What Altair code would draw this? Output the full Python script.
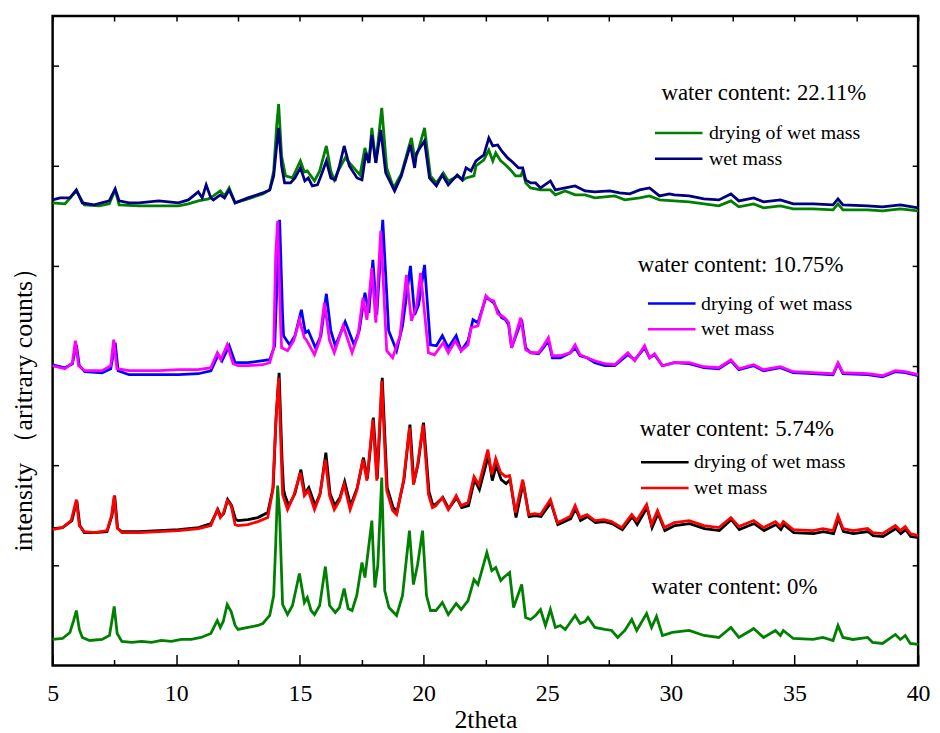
import altair as alt
import pandas as pd

FONT = "Liberation Serif"
LABELS = ["drying of wet mass", "wet mass"]

# ---------------- data: (2theta, intensity) ----------------
dry_22 = [(5.00,463),(5.50,462),(5.96,475),(6.28,461),(6.88,460),(7.29,462),(7.53,476),(7.69,461),
    (8.49,460),(9.29,460),(10.09,460),(10.49,462),(10.89,465),(11.30,467),(11.50,470),(11.78,475),
    (11.95,470),(12.14,478),(12.38,463),(12.90,467),(13.50,472),(13.78,476),(13.94,495),(14.06,540),
    (14.14,562),(14.26,510),(14.42,490),(14.70,488),(15.02,505),(15.18,494),(15.30,495),(15.59,485),
    (15.80,495),(16.07,520),(16.25,495),(16.39,486),(16.55,495),(16.83,508),(17.11,500),(17.43,491),
    (17.63,518),(17.79,503),(17.91,538),(18.07,503),(18.31,558),(18.51,498),(18.79,478),(19.10,492),
    (19.51,528),(19.64,508),(19.76,513),(20.04,538),(20.28,490),(20.52,483),(20.80,493),(21.00,485),
    (21.40,490),(21.60,486),(21.72,488),(22.04,490),(22.12,500),(22.44,506),(22.64,516),(22.80,505),
    (22.92,513),(23.12,505),(23.32,501),(23.52,496),(23.72,490),(23.93,490),(24.01,495),(24.13,483),
    (24.33,478),(24.73,476),(25.13,476),(25.33,471),(25.73,475),(26.13,471),(26.53,471),(26.93,468),
    (27.73,470),(28.14,466),(28.74,468),(29.14,470),(29.54,466),(30.14,465),(30.74,464),(31.34,462),
    (31.94,460),(32.43,465),(32.75,459),(33.35,462),(33.75,458),(34.43,460),(34.95,457),(35.75,457),
    (36.56,456),(36.76,462),(36.96,456),(37.96,456),(38.56,455),(39.28,457),(40.00,455)]

wet_22 = [(5.00,466),(5.30,468),(5.70,468),(5.96,476),(6.20,463),(6.68,461),(7.29,465),(7.53,477),
    (7.69,465),(8.09,463),(8.49,463),(9.29,465),(10.09,463),(10.49,466),(10.89,474),(11.05,468),
    (11.21,481),(11.40,468),(11.50,466),(11.78,471),(11.95,468),(12.14,476),(12.38,463),(12.90,468),
    (13.50,473),(13.78,476),(13.94,490),(14.06,520),(14.14,538),(14.26,500),(14.38,483),(14.62,483),
    (14.80,488),(15.02,498),(15.20,485),(15.34,488),(15.50,480),(15.71,481),(15.85,490),(16.07,505),
    (16.25,488),(16.43,486),(16.60,500),(16.79,520),(17.00,500),(17.31,488),(17.51,486),(17.67,513),
    (17.79,503),(17.91,531),(18.07,503),(18.27,536),(18.47,493),(18.83,475),(19.10,490),(19.47,521),
    (19.64,498),(19.72,513),(20.04,525),(20.24,488),(20.52,480),(20.76,491),(21.00,481),(21.36,491),
    (21.56,486),(21.72,498),(21.92,495),(22.12,505),(22.44,511),(22.64,528),(22.80,520),(23.00,521),
    (23.16,515),(23.40,508),(23.64,503),(23.84,498),(24.01,498),(24.13,486),(24.33,483),(24.53,483),
    (24.73,478),(25.13,485),(25.33,476),(25.73,478),(26.13,480),(26.53,475),(26.93,474),(27.53,475),
    (27.93,473),(28.34,472),(28.74,476),(29.14,478),(29.54,470),(29.94,472),(30.14,471),(30.74,470),
    (31.34,467),(31.94,466),(32.43,472),(32.75,465),(33.35,468),(33.75,464),(34.43,466),(34.95,462),
    (35.75,462),(36.56,461),(36.76,467),(36.96,461),(37.96,460),(38.56,459),(39.28,461),(40.00,458)]

dry_10 = [(5.00,301),(5.50,298),(5.80,302),(5.96,321),(6.08,300),(6.30,294),(7.00,293),(7.35,297),
    (7.53,323),(7.65,295),(8.09,291),(9.29,291),(10.09,291),(10.89,292),(11.40,295),(11.70,311),
    (11.85,305),(12.14,320),(12.38,303),(12.90,303),(13.50,305),(13.78,306),(13.98,320),(14.10,400),
    (14.18,446),(14.30,350),(14.34,330),(14.58,321),(14.80,330),(15.06,356),(15.22,333),(15.34,335),
    (15.63,318),(15.85,330),(16.07,372),(16.25,335),(16.43,320),(16.60,330),(16.83,344),(17.19,321),
    (17.40,335),(17.63,373),(17.79,353),(17.95,406),(18.11,351),(18.35,446),(18.59,335),(18.91,315),
    (19.15,340),(19.47,400),(19.64,351),(19.80,361),(20.04,401),(20.28,321),(20.52,320),(20.76,330),
    (21.00,318),(21.32,330),(21.52,315),(21.80,325),(22.00,346),(22.20,343),(22.52,368),(22.68,366),
    (22.84,363),(23.00,355),(23.16,348),(23.32,346),(23.44,341),(23.56,318),(23.97,346),(24.13,318),
    (24.33,313),(24.65,312),(24.85,318),(25.05,325),(25.21,308),(25.53,308),(25.93,313),(26.13,318),
    (26.33,310),(26.61,308),(26.93,303),(27.33,300),(27.73,300),(28.26,311),(28.54,306),(28.94,318),
    (29.14,308),(29.34,311),(29.66,300),(30.14,303),(30.74,302),(31.34,298),(31.94,297),(32.43,305),
    (32.75,296),(33.35,300),(33.75,295),(34.43,298),(34.95,293),(35.75,292),(36.56,291),(36.76,302),
    (36.96,292),(37.96,291),(38.56,289),(39.08,294),(39.48,293),(40.00,290)]

wet_10 = [(5.00,300),(5.50,297),(5.80,303),(5.92,325),(6.05,300),(6.30,295),(7.00,295),(7.35,300),
    (7.47,326),(7.60,297),(8.09,295),(9.29,295),(10.09,296),(10.89,296),(11.40,298),(11.66,313),
    (11.80,306),(12.06,321),(12.30,302),(12.50,300),(12.90,300),(13.50,301),(13.78,303),(13.94,318),
    (14.02,410),(14.10,445),(14.22,340),(14.26,318),(14.50,315),(14.75,325),(14.98,346),(15.18,328),
    (15.26,326),(15.59,311),(15.80,325),(15.99,363),(16.20,325),(16.39,313),(16.55,325),(16.75,340),
    (17.11,313),(17.35,330),(17.55,368),(17.71,346),(17.91,398),(18.07,343),(18.27,435),(18.51,315),
    (18.75,308),(19.05,330),(19.31,391),(19.51,345),(19.72,360),(19.88,393),(20.20,313),(20.44,311),
    (20.80,323),(21.00,313),(21.28,325),(21.52,315),(21.80,321),(21.92,338),(22.20,340),(22.52,370),
    (22.68,366),(22.84,365),(23.00,352),(23.16,350),(23.32,347),(23.44,343),(23.56,318),(23.93,348),
    (24.13,316),(24.33,313),(24.65,313),(24.85,320),(25.05,328),(25.21,310),(25.53,310),(25.93,313),
    (26.13,321),(26.33,311),(26.61,308),(26.93,305),(27.33,302),(27.73,301),(28.26,313),(28.54,305),
    (28.94,320),(29.14,308),(29.34,312),(29.66,300),(30.14,303),(30.74,303),(31.34,299),(31.94,298),
    (32.43,306),(32.75,297),(33.35,301),(33.75,296),(34.43,299),(34.95,294),(35.75,293),(36.56,292),
    (36.76,303),(36.96,293),(37.96,292),(38.56,290),(39.08,295),(39.48,294),(40.00,291)]

dry_5 = [(5.00,137),(5.40,138),(5.78,145),(5.98,165),(6.10,140),(6.28,133),(6.70,133),(7.20,134),
    (7.40,150),(7.51,170),(7.63,137),(7.80,134),(8.50,134),(9.30,135),(10.10,136),(10.90,138),
    (11.40,142),(11.68,156),(11.80,149),(11.92,152),(12.08,166),(12.24,160),(12.40,146),(12.50,145),
    (12.90,146),(13.30,148),(13.70,153),(13.92,178),(14.04,250),(14.16,293),(14.28,205),(14.34,176),
    (14.40,170),(14.55,160),(14.80,172),(15.04,196),(15.20,172),(15.36,178),(15.62,160),(15.82,172),
    (16.05,213),(16.22,172),(16.41,160),(16.62,168),(16.81,184),(17.05,160),(17.32,178),(17.57,208),
    (17.73,187),(17.97,248),(18.13,187),(18.33,288),(18.53,178),(18.77,158),(18.93,154),(19.21,186),
    (19.45,241),(19.61,183),(19.78,202),(20.00,243),(20.22,174),(20.38,160),(20.52,162),(20.78,168),
    (21.02,157),(21.34,168),(21.54,158),(21.82,160),(22.06,186),(22.26,176),(22.62,210),(22.78,185),
    (22.94,200),(23.14,186),(23.34,182),(23.50,186),(23.74,148),(24.03,183),(24.27,149),(24.52,150),
    (24.75,149),(25.15,163),(25.43,141),(25.62,143),(25.95,147),(26.15,157),(26.35,145),(26.63,149),
    (26.95,143),(27.32,144),(27.62,142),(28.04,136),(28.44,149),(28.64,141),(29.04,158),(29.24,138),
    (29.48,152),(29.76,135),(30.16,140),(30.76,142),(31.36,137),(31.96,135),(32.45,146),(32.77,136),
    (33.37,142),(33.77,135),(34.25,141),(34.45,136),(34.57,141),(34.97,133),(35.77,132),(36.17,134),
    (36.58,132),(36.78,147),(36.98,134),(37.38,132),(37.98,134),(38.18,130),(38.58,129),(39.10,137),
    (39.30,132),(39.50,136),(39.70,129),(40.00,128)]

wet_5 = [(5.00,136),(5.40,138),(5.75,145),(5.96,166),(6.08,140),(6.28,134),(6.70,133),(7.20,135),
    (7.38,150),(7.49,170),(7.61,138),(7.80,133),(8.50,133),(9.30,134),(10.10,135),(10.90,137),
    (11.40,140),(11.66,156),(11.78,148),(11.90,152),(12.06,165),(12.22,160),(12.38,141),(12.50,140),
    (12.90,141),(13.30,144),(13.70,148),(13.90,175),(14.02,240),(14.14,288),(14.26,200),(14.30,171),
    (14.38,165),(14.50,156),(14.75,170),(15.02,193),(15.18,170),(15.34,175),(15.59,156),(15.80,170),
    (16.03,206),(16.20,170),(16.39,156),(16.60,165),(16.79,181),(17.03,156),(17.30,175),(17.55,206),
    (17.71,185),(17.95,246),(18.11,185),(18.31,285),(18.51,175),(18.75,155),(18.91,151),(19.19,185),
    (19.43,238),(19.59,181),(19.76,201),(19.98,241),(20.20,171),(20.36,158),(20.50,160),(20.76,168),
    (21.00,156),(21.32,170),(21.52,160),(21.80,163),(22.04,189),(22.24,181),(22.60,216),(22.76,191),
    (22.92,207),(23.12,193),(23.32,189),(23.48,190),(23.72,153),(24.01,186),(24.25,151),(24.50,152),
    (24.73,151),(25.13,166),(25.41,143),(25.60,145),(25.93,149),(26.13,160),(26.33,148),(26.61,151),
    (26.93,145),(27.30,146),(27.60,144),(28.02,138),(28.42,151),(28.62,145),(29.02,161),(29.22,141),
    (29.46,155),(29.74,138),(30.14,143),(30.74,145),(31.34,140),(31.94,138),(32.43,148),(32.75,139),
    (33.35,145),(33.75,138),(34.23,144),(34.43,139),(34.55,144),(34.95,136),(35.75,135),(36.15,137),
    (36.56,135),(36.76,150),(36.96,137),(37.36,135),(37.96,137),(38.16,133),(38.56,132),(39.08,140),
    (39.28,135),(39.48,139),(39.68,132),(40.00,130)]

dry_0 = [(5.00,26),(5.40,27),(5.70,33),(5.85,45),(5.96,55),(6.08,36),(6.20,28),(6.50,25),(7.00,26),
    (7.30,30),(7.40,45),(7.49,59),(7.61,32),(7.80,24),(8.20,23),(8.60,24),(9.00,23),(9.40,25),
    (9.80,24),(10.20,26),(10.60,26),(11.00,28),(11.40,32),(11.66,45),(11.78,38),(11.90,44),
    (12.06,61),(12.22,54),(12.38,40),(12.50,36),(12.90,38),(13.30,40),(13.50,42),(13.78,50),
    (13.94,70),(14.02,120),(14.10,180),(14.18,150),(14.30,61),(14.50,51),(14.70,60),(14.98,92),
    (15.18,63),(15.30,68),(15.45,55),(15.59,51),(15.80,60),(16.03,99),(16.20,60),(16.43,53),
    (16.60,58),(16.79,77),(16.95,57),(17.11,55),(17.30,70),(17.51,103),(17.63,88),(17.91,145),
    (18.03,78),(18.15,100),(18.31,188),(18.43,75),(18.60,58),(18.91,50),(19.15,70),(19.43,135),
    (19.59,81),(19.76,101),(19.96,135),(20.12,70),(20.28,55),(20.50,55),(20.76,63),(21.00,51),
    (21.32,62),(21.52,56),(21.80,65),(22.04,86),(22.20,81),(22.56,113),(22.76,95),(22.92,98),
    (23.12,85),(23.24,88),(23.48,93),(23.64,58),(23.97,81),(24.13,48),(24.33,46),(24.53,50),
    (24.73,56),(24.93,40),(25.13,56),(25.33,38),(25.53,40),(25.73,36),(26.13,50),(26.33,42),
    (26.53,44),(26.65,48),(26.93,38),(27.33,36),(27.61,35),(27.85,28),(28.14,35),(28.42,46),
    (28.62,35),(29.02,52),(29.22,38),(29.42,49),(29.66,30),(30.06,33),(30.74,35),(31.34,30),
    (31.94,28),(32.43,38),(32.75,28),(33.23,35),(33.35,37),(33.75,28),(34.23,35),(34.43,30),
    (34.55,35),(34.95,27),(35.75,26),(36.15,28),(36.56,25),(36.76,40),(36.96,28),(37.36,26),
    (37.96,28),(38.16,23),(38.56,22),(39.08,31),(39.28,26),(39.48,30),(39.68,22),(40.00,21)]

# sample captions and where they sit (in axis units)
note_text = ["water content: 22.11%", "water content: 10.75%", "water content: 5.74%", "water content: 0%"]
note_x = [29.62, 28.66, 28.74, 29.22]
note_y = [566, 394, 230, 71.5]

x_ticks = [5, 10, 15, 20, 25, 30, 35, 40]
x_minor = [7.5, 12.5, 17.5, 22.5, 27.5, 32.5, 37.5]
x_all = [5, 7.5, 10, 12.5, 15, 17.5, 20, 22.5, 25, 27.5, 30, 32.5, 35, 37.5, 40]
y_ticks = [100, 200, 300, 400, 500, 600]


def frame(points, label):
    return pd.DataFrame({"two_theta": [p[0] for p in points],
                         "intensity": [p[1] for p in points],
                         "series": label})


df22 = pd.concat([frame(dry_22, LABELS[0]), frame(wet_22, LABELS[1])], ignore_index=True)
df10 = pd.concat([frame(dry_10, LABELS[0]), frame(wet_10, LABELS[1])], ignore_index=True)
df5 = pd.concat([frame(dry_5, LABELS[0]), frame(wet_5, LABELS[1])], ignore_index=True)
df0 = frame(dry_0, "dry")
notes = pd.DataFrame({"two_theta": note_x, "intensity": note_y, "text": note_text})

xscale = alt.Scale(domain=[5, 40], nice=False, zero=False)
yscale = alt.Scale(domain=[0, 650], nice=False, zero=False)

tick_style = dict(labels=False, domain=False, grid=False, ticks=True, tickColor="black", tickWidth=1.5)

ax_x_main = alt.Axis(values=x_ticks, format="d", title="2theta", titleFont=FONT, titleFontSize=26,
                     titleFontWeight="normal", titleColor="black", titleY=63,
                     titleBaseline="alphabetic", titleAlign="center",
                     labelFont=FONT, labelFontSize=24, labelColor="black", labelPadding=16,
                     labelFlush=False, labelOverlap=False, ticks=False, domain=False, grid=False)
ax_x_major = alt.Axis(orient="bottom", values=x_ticks, tickSize=11, offset=-11, title=None, **tick_style)
ax_x_minor = alt.Axis(orient="bottom", values=x_minor, tickSize=6, offset=-6, title=None, **tick_style)
ax_x_top = alt.Axis(orient="top", values=x_all, tickSize=5, offset=-5, title=None, **tick_style)
ax_y_left = alt.Axis(orient="left", values=y_ticks, tickSize=6, offset=-6,
                     title="intensity （aritrary counts）", titleFont=FONT, titleFontSize=26,
                     titleFontWeight="normal", titleColor="black", titleAngle=270,
                     titleX=-35, titleY=390, titleBaseline="middle", titleAlign="center", **tick_style)
ax_y_right = alt.Axis(orient="right", values=y_ticks, tickSize=6, offset=-6, title=None, **tick_style)


def legend(lx, ly, sym_off, lab_off):
    return alt.Legend(title=None, orient="none", legendX=lx, legendY=ly, padding=0,
                      labelFont=FONT, labelFontSize=20, labelColor="black", labelLimit=400,
                      labelOffset=lab_off, symbolType="stroke", symbolSize=2304,
                      symbolStrokeWidth=2.5, symbolOffset=sym_off, clipHeight=26, rowPadding=0)


def pair_layer(df, colors, ax_x, ax_y, leg):
    return alt.Chart(df).mark_line(strokeWidth=2.8).encode(
        x=alt.X("two_theta:Q", scale=xscale, axis=ax_x),
        y=alt.Y("intensity:Q", scale=yscale, axis=ax_y),
        color=alt.Color("series:N", scale=alt.Scale(domain=LABELS, range=colors), legend=leg),
    )


layer22 = pair_layer(df22, ["#008000", "#000080"], ax_x_main, ax_y_left, legend(606, 105, 0, 5))
layer10 = pair_layer(df10, ["#0000FF", "#FF00FF"], ax_x_major, ax_y_right, legend(590, 277, 9, 4))
layer5 = pair_layer(df5, ["#000000", "#FF0000"], ax_x_minor, None, legend(592, 437, 0, 4))
layer0 = alt.Chart(df0).mark_line(strokeWidth=2.8, color="#008000").encode(
    x=alt.X("two_theta:Q", scale=xscale, axis=ax_x_top),
    y=alt.Y("intensity:Q", scale=yscale, axis=None),
)
captions = alt.Chart(notes).mark_text(align="left", baseline="alphabetic", font=FONT, fontSize=23,
                                      color="black").encode(
    x=alt.X("two_theta:Q", scale=xscale, axis=None),
    y=alt.Y("intensity:Q", scale=yscale, axis=None),
    text="text:N",
)

chart = alt.layer(layer22, layer10, layer5, layer0, captions).resolve_scale(
    color="independent"
).resolve_axis(
    x="independent", y="independent"
).properties(
    width=873, height=655,
    autosize=alt.AutoSizeParams(type="none"),
    padding={"left": 45, "top": 5, "right": 14, "bottom": 65},
    background="white",
).configure_view(stroke="black", strokeWidth=2.5)

chart.save("out.html", embed_options={"renderer": "svg", "actions": False})
